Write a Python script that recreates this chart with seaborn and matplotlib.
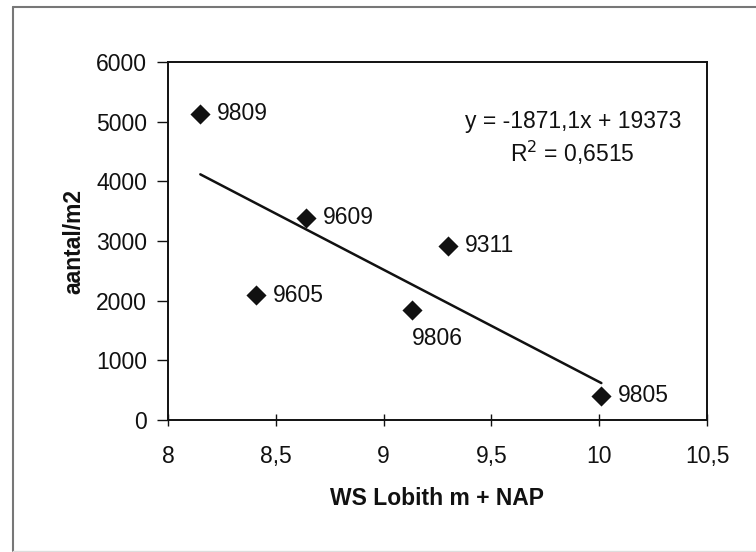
import numpy as np
import pandas as pd
import seaborn as sns
import matplotlib.pyplot as plt
from matplotlib.lines import Line2D

# data
codes = ["9809", "9609", "9605", "9806", "9311", "9805"]
ws_lobith = [8.15, 8.64, 8.41, 9.13, 9.30, 10.01]
aantal = [5130, 3390, 2090, 1850, 2920, 410]
x_ticks = [8, 8.5, 9, 9.5, 10, 10.5]
x_ticklabels = ["8", "8,5", "9", "9,5", "10", "10,5"]
y_ticks = [0, 1000, 2000, 3000, 4000, 5000, 6000]
equation = "y = -1871,1x + 19373\nR$^2$ = 0,6515"

df = pd.DataFrame({"code": codes, "ws": ws_lobith, "aantal": aantal})

sns.set_theme(style="white")
plt.rcParams['font.family'] = ['Liberation Sans', 'DejaVu Sans']
fs = 16.5

fig = plt.figure(figsize=(7.56, 5.52), dpi=100)
ax = fig.add_axes([0.2222, 0.2391, 0.713, 0.6486])

sns.regplot(data=df, x="ws", y="aantal", ax=ax, ci=None, truncate=True,
            marker="D", color="#111111",
            scatter_kws={"s": 105, "linewidths": 0, "alpha": 1},
            line_kws={"color": "#111111", "lw": 1.8})

# point labels
for _, r in df.iterrows():
    if r["code"] == "9806":
        ax.annotate(r["code"], (r["ws"], r["aantal"]), xytext=(0, -21),
                    textcoords="offset points", ha="left", va="center",
                    fontsize=fs, color="#111111")
    else:
        ax.annotate(r["code"], (r["ws"], r["aantal"]), xytext=(12, 0),
                    textcoords="offset points", ha="left", va="center",
                    fontsize=fs, color="#111111")

ax.text(0.751, 0.785, equation, transform=ax.transAxes, ha="center", va="center",
        multialignment="center", fontsize=fs, linespacing=1.25, color="#111111")

ax.set_xlim(8, 10.5)
ax.set_ylim(0, 6000)
ax.set_xticks(x_ticks)
ax.set_xticklabels(x_ticklabels)
ax.set_yticks(y_ticks)

for s in ax.spines.values():
    s.set_color("#111111")
    s.set_linewidth(1.4)

ax.tick_params(axis="x", direction="inout", length=8, width=1, colors="#111111",
               labelsize=fs, pad=14, bottom=True)
ax.tick_params(axis="y", direction="out", length=8, width=1, colors="#111111",
               labelsize=fs, pad=7, left=True)

ax.set_xlabel("WS Lobith m + NAP", fontsize=fs, fontweight="bold", color="#111111")
ax.set_ylabel("aantal/m2", fontsize=fs, fontweight="bold", color="#111111")
ax.xaxis.set_label_coords(0.5, -0.187)
ax.yaxis.set_label_coords(-0.154, 0.5)

# outer chart frame
fig.add_artist(Line2D([0.0172, 0.0172], [0.002, 0.9873], transform=fig.transFigure,
                      color="#777777", lw=1.5))
fig.add_artist(Line2D([0.0172, 1.0], [0.9873, 0.9873], transform=fig.transFigure,
                      color="#777777", lw=1.5))
fig.add_artist(Line2D([0.0172, 1.0], [0.002, 0.002], transform=fig.transFigure,
                      color="#dddddd", lw=1.0))

fig.savefig("out.png", dpi=100)
